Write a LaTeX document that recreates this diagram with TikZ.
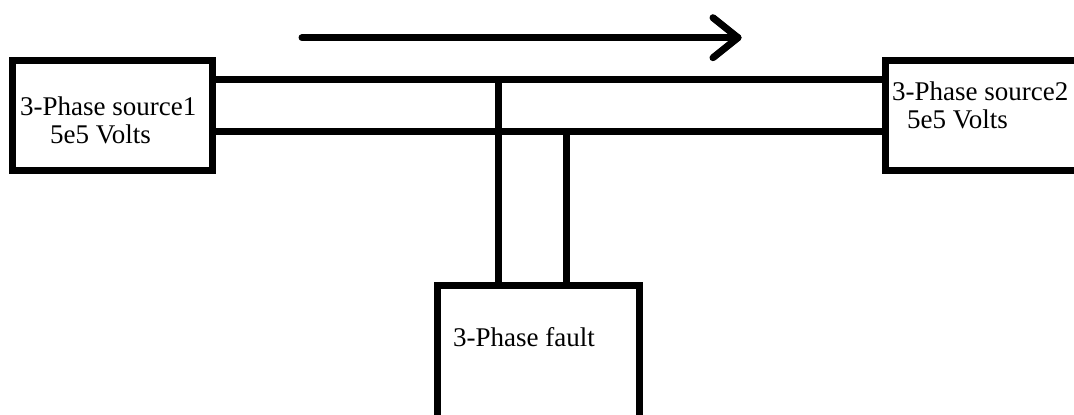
\documentclass[tikz,border=0pt]{standalone}
\usepackage{fontspec}
\setmainfont{Liberation Serif}
\begin{document}
\begin{tikzpicture}[x=1pt,y=-1pt,
  box/.style={draw=black,line width=7pt,fill=white,inner sep=0pt,outer sep=0pt},
  wire/.style={draw=black,line width=7pt},
  lbl/.style={anchor=base west,inner sep=0pt,font=\fontsize{27}{32}\selectfont}]
\useasboundingbox (0,0) rectangle (1074,415);
\clip (0,0) rectangle (1074,415);
% boxes
\node[box,minimum width=200pt,minimum height=110pt] (L) at (112.5,115.5) {};
\node[box,minimum width=200pt,minimum height=110.5pt] (R) at (985,115.25) {};
\node[box,minimum width=202pt,minimum height=150pt] (F) at (538,360.5) {};
% junction points
\coordinate (j1) at (498.5,79.5);
\coordinate (j2) at (566,131.5);
% wires
\draw[wire] (L.east |- j1) -- (R.west |- j1);
\draw[wire] (L.east |- j2) -- (R.west |- j2);
\draw[wire] (j1) -- (j1 |- F.north);
\draw[wire] (j2) -- (j2 |- F.north);
% arrow
\coordinate (aS) at (302,37.7);
\coordinate (aE) at (738,37.7);
\draw[line width=7pt,line cap=round,line join=round] (aS) -- (aE);
\draw[line width=7pt,line cap=round,line join=round] ([shift={(-25,-20)}]aE) -- (aE) -- ([shift={(-25,20)}]aE);
% labels
\node[lbl] (t1) at (20,115) {3-Phase source1};
\node[lbl] (t2) at (50,143) {5e5 Volts};
\node[lbl] (t3) at (892,100) {3-Phase source2};
\node[lbl] (t4) at (907,128) {5e5 Volts};
\node[lbl] (t5) at (453,346) {3-Phase fault};
\end{tikzpicture}
\end{document}
